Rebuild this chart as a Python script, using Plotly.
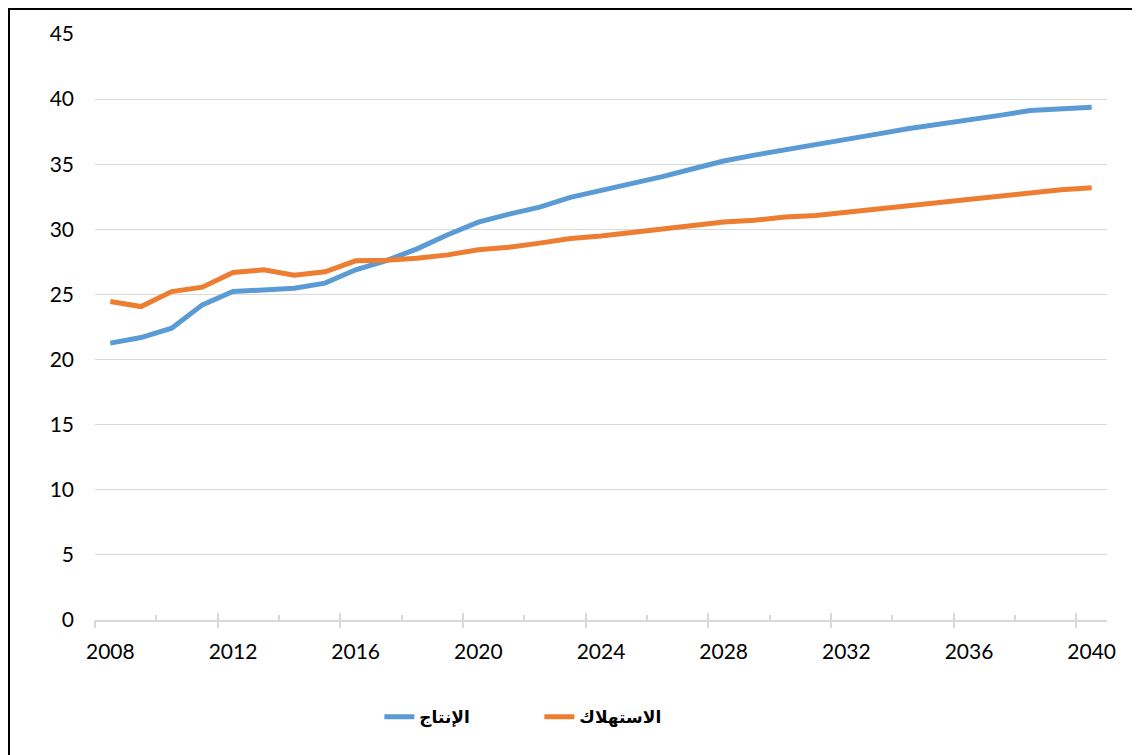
import plotly.graph_objects as go

years = list(range(2008, 2041))

production = [21.26, 21.69, 22.41, 24.2, 25.22, 25.35, 25.48, 25.87, 26.89, 27.6,
              28.5, 29.58, 30.55, 31.17, 31.7, 32.45, 32.98, 33.47, 34.05, 34.65,
              35.25, 35.7, 36.1, 36.42, 36.88, 37.31, 37.72, 38.06, 38.34, 38.75,
              39.13, 39.25, 39.38]

consumption = [24.46, 24.07, 25.22, 25.56, 26.69, 26.89, 26.48, 26.74, 27.58, 27.62,
               27.78, 28.04, 28.43, 28.63, 28.94, 29.3, 29.48, 29.76, 30.07, 30.35,
               30.56, 30.7, 30.94, 31.06, 31.3, 31.55, 31.83, 32.09, 32.27, 32.57,
               32.83, 33.04, 33.19]

series_names = ["الإنتاج", "الاستهلاك"]
series_colors = ["#5B9BD5", "#ED7D31"]

label_years = list(range(2008, 2041, 4))
major_bounds = [y - 0.5 for y in range(2008, 2041, 4)]
minor_bounds = [y - 0.5 for y in range(2010, 2041, 4)]
y_ticks = list(range(0, 46, 5))

fig = go.Figure()
for name, vals, col in zip(series_names, [production, consumption], series_colors):
    fig.add_trace(go.Scatter(x=years, y=vals, mode="lines", name=name,
                             line=dict(color=col, width=5)))

# invisible helper traces for the extra tick axes
fig.add_trace(go.Scatter(x=[years[0]], y=[0], xaxis="x2", mode="markers",
                         marker=dict(opacity=0), showlegend=False, hoverinfo="skip"))
fig.add_trace(go.Scatter(x=[years[0]], y=[0], xaxis="x3", mode="markers",
                         marker=dict(opacity=0), showlegend=False, hoverinfo="skip"))

xr = [2007.5, 2040.5]
tickfont = dict(family="Lato", size=21, color="#000000")

W, H = 1140, 755
ML, MR, MT, MB = 87, 41, 26, 143
PW, PH = W - ML - MR, H - MT - MB

fig.update_layout(
    width=W, height=H,
    margin=dict(l=ML, r=MR, t=MT, b=MB),
    paper_bgcolor="white", plot_bgcolor="white",
    showlegend=True,
    legend=dict(orientation="h", x=0.281, xanchor="left", y=-0.166, yanchor="middle",
                font=dict(family="DejaVu Sans", size=17, color="#000000", weight="bold"),
                entrywidth=115, bgcolor="rgba(0,0,0,0)"),
    xaxis=dict(range=xr, tickmode="array", tickvals=label_years,
               ticktext=[str(y) for y in label_years],
               ticks="", showgrid=False, zeroline=False,
               showline=True, linecolor="#D9D9D9", linewidth=1.5,
               tickfont=tickfont, ticklabelstandoff=12,
               minor=dict(tickmode="array", tickvals=minor_bounds, ticks="inside",
                          ticklen=5, tickcolor="#D9D9D9", tickwidth=1.5, showgrid=False)),
    xaxis2=dict(range=xr, overlaying="x", anchor="y", side="bottom",
                tickmode="array", tickvals=major_bounds, ticks="outside",
                ticklen=7, tickcolor="#D9D9D9", tickwidth=1.5,
                showticklabels=False, showgrid=False, zeroline=False, showline=False),
    xaxis3=dict(range=xr, overlaying="x", anchor="y", side="bottom",
                tickmode="array", tickvals=major_bounds, ticks="inside",
                ticklen=7, tickcolor="#D9D9D9", tickwidth=1.5,
                showticklabels=False, showgrid=False, zeroline=False, showline=False),
    yaxis=dict(range=[0, 45], tickmode="array", tickvals=y_ticks,
               ticks="", showgrid=True, gridcolor="#D9D9D9", gridwidth=1.2,
               zeroline=False, showline=False, tickfont=tickfont,
               ticklabelstandoff=20),
    shapes=[dict(type="rect", xref="paper", yref="paper",
                 x0=(1 - ML) / PW, x1=(W + 20 - ML) / PW,
                 y0=(MT + PH - H - 20) / PH, y1=(MT + PH - 1) / PH,
                 line=dict(color="#000000", width=2), fillcolor="rgba(0,0,0,0)",
                 layer="above")],
)

fig.write_html("out.html")
